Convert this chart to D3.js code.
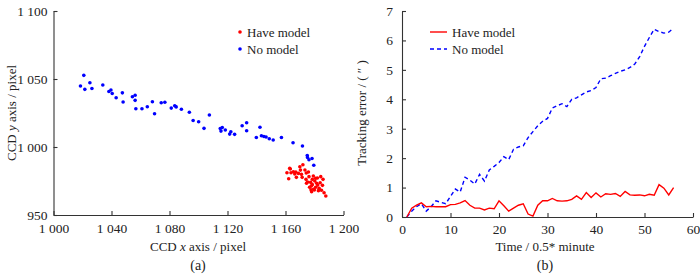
<!DOCTYPE html>
<html lang="en">
<head>
<meta charset="UTF-8">
<script src="https://cdn.jsdelivr.net/npm/d3@7"></script>
<style>
  body { margin: 0; background: #fff; }
  text { font-family: "Liberation Serif", serif; fill: #222; }
</style>
</head>
<body>
<div id="fig"></div>
<script>
// panel (a): CCD positions [x, y]
const haveModelPts = [
  [1162.9,984.3],[1161.0,981.1],[1162.2,976.7],[1163.8,981.1],[1165.4,981.8],[1166.4,980.1],
  [1167.5,977.7],[1167.1,981.6],[1168.9,980.6],[1169.9,985.5],[1172.0,987.0],[1171.0,979.9],
  [1171.5,977.7],[1173.4,983.1],[1174.3,980.9],[1174.1,976.2],[1175.2,974.3],[1176.2,978.2],
  [1174.5,973.3],[1177.3,974.0],[1178.5,976.2],[1179.2,978.7],[1180.8,977.0],[1178.5,972.3],
  [1176.6,970.4],[1177.6,968.6],[1179.4,968.9],[1180.8,970.4],[1181.5,973.3],[1182.2,972.0],
  [1183.2,969.6],[1184.3,978.2],[1183.9,973.7],[1185.9,976.2],[1185.5,971.8],[1184.8,968.2],
  [1186.6,966.4],[1187.8,964.0],[1179.9,968.4],[1178.0,967.1],[1182.7,967.9],[1163.3,983.8],
  [1175.8,981.6],[1180.2,975.0],[1177.8,971.3],[1182.0,977.2],[1170.3,983.0]
];
const noModelPts = [
  [1018.6,1044.8],[1020.9,1052.7],[1021.6,1042.4],[1025.1,1047.2],[1026.5,1043.0],[1034.0,1045.6],
  [1038.2,1040.8],[1039.6,1041.9],[1040.5,1039.3],[1043.2,1036.2],[1047.5,1039.8],[1048.0,1033.1],
  [1054.4,1037.0],[1056.3,1038.0],[1056.3,1034.3],[1056.8,1028.1],[1061.0,1028.1],[1064.7,1029.6],
  [1068.2,1033.3],[1069.7,1024.5],[1074.3,1032.5],[1076.8,1032.9],[1081.2,1028.6],[1083.6,1030.3],
  [1084.6,1029.5],[1088.2,1027.8],[1093.7,1025.5],[1096.3,1019.5],[1100.1,1018.6],[1103.8,1013.7],
  [1107.5,1023.5],[1115.0,1013.6],[1115.5,1011.7],[1116.4,1014.3],[1118.5,1012.5],[1121.5,1009.5],
  [1122.3,1011.2],[1124.9,1009.3],[1130.1,1015.6],[1133.2,1017.8],[1133.2,1012.0],[1139.9,1007.0],
  [1142.4,1014.5],[1143.4,1008.3],[1145.1,1007.7],[1146.6,1007.3],[1148.8,1006.1],[1151.5,1005.1],
  [1157.2,1007.0],[1165.2,1003.1],[1171.7,1000.7],[1175.2,992.3],[1176.2,990.6],[1178.3,991.5],
  [1179.5,986.6],[1175.0,993.7]
];
const xTicksA = [1000, 1040, 1080, 1120, 1160, 1200];
const yTicksA = [950, 1000, 1050, 1100];

// panel (b): tracking error over time
const timeSteps = d3.range(1, 57);
const haveModelErr = [
  0, 0.3, 0.4, 0.48, 0.35, 0.36, 0.35, 0.35, 0.35, 0.42, 0.43, 0.48, 0.56, 0.4, 0.3, 0.3,
  0.24, 0.3, 0.28, 0.55, 0.38, 0.2, 0.3, 0.4, 0.45, 0.1, 0.03, 0.4, 0.55, 0.55, 0.63, 0.55,
  0.54, 0.55, 0.6, 0.72, 0.6, 0.83, 0.66, 0.82, 0.68, 0.79, 0.77, 0.8, 0.7, 0.87, 0.75, 0.74,
  0.75, 0.72, 0.77, 0.74, 1.1, 0.98, 0.75, 1.0
];
const noModelErr = [
  0, 0.2, 0.35, 0.45, 0.2, 0.35, 0.55, 0.5, 0.45, 0.7, 0.95, 0.85, 1.35, 1.25, 1.12, 1.45,
  1.22, 1.6, 1.72, 1.85, 2.05, 1.95, 2.3, 2.38, 2.42, 2.7, 2.9, 3.1, 3.25, 3.35, 3.7, 3.78,
  3.85, 3.75, 4.0, 4.05, 4.15, 4.25, 4.3, 4.4, 4.7, 4.72, 4.8, 4.88, 4.95, 5.0, 5.08, 5.2,
  5.45, 5.8, 6.1, 6.38, 6.3, 6.25, 6.28, 6.42
];
const xTicksB = [0, 10, 20, 30, 40, 50, 60];
const yTicksB = [0, 1, 2, 3, 4, 5, 6, 7];

const width = 700, height = 275;
const fs = 13;
const svg = d3.select("#fig").append("svg")
    .attr("width", width)
    .attr("height", height);

const axisColor = "#333";
function styleAxis(g) {
    g.attr("font-family", null);
    g.select(".domain").attr("stroke", axisColor).attr("stroke-width", 1.1);
    g.selectAll(".tick line").attr("stroke", axisColor).attr("stroke-width", 1.1);
    g.selectAll(".tick text").attr("font-size", 13.5).attr("fill", "#222");
}

// ---- (a) scatter
const xA = d3.scaleLinear().domain([1000, 1200]).range([53.5, 343.5]);
const yA = d3.scaleLinear().domain([950, 1100]).range([215, 11]);
const spaceFmt = d => d3.format(",")(d).replace(",", " ");

const gxA = svg.append("g").attr("transform", `translate(0,${yA(950)})`)
    .call(d3.axisBottom(xA).tickValues(xTicksA).tickFormat(spaceFmt).tickSizeInner(-4).tickSizeOuter(0).tickPadding(8));
styleAxis(gxA);
const gyA = svg.append("g").attr("transform", `translate(${xA(1000)},0)`)
    .call(d3.axisLeft(yA).tickValues(yTicksA).tickFormat(spaceFmt).tickSizeInner(-4).tickSizeOuter(0).tickPadding(6));
styleAxis(gyA);

svg.append("g").selectAll("circle")
    .data(noModelPts).join("circle")
    .attr("cx", d => xA(d[0])).attr("cy", d => yA(d[1]))
    .attr("r", 1.8).attr("fill", "#0000ff");
svg.append("g").selectAll("circle")
    .data(haveModelPts).join("circle")
    .attr("cx", d => xA(d[0])).attr("cy", d => yA(d[1]))
    .attr("r", 1.8).attr("fill", "#ff0000");

// legend (a)
const legA = [{name: "Have model", color: "#ff0000"}, {name: "No model", color: "#0000ff"}];
const lgA = svg.append("g").attr("transform", "translate(240,32)");
lgA.selectAll("circle").data(legA).join("circle")
    .attr("cx", 0).attr("cy", (d, i) => i * 17).attr("r", 1.8).attr("fill", d => d.color);
lgA.selectAll("text").data(legA).join("text")
    .attr("x", 7).attr("y", (d, i) => i * 17 + 4.5).attr("font-size", fs).text(d => d.name);

const xtA = svg.append("text").attr("x", 198).attr("y", 251).attr("text-anchor", "middle").attr("font-size", fs);
xtA.append("tspan").text("CCD ");
xtA.append("tspan").attr("font-style", "italic").text("x");
xtA.append("tspan").text(" axis / pixel");
const ytA = svg.append("text").attr("transform", "translate(16,113) rotate(-90)").attr("text-anchor", "middle").attr("font-size", fs);
ytA.append("tspan").text("CCD ");
ytA.append("tspan").attr("font-style", "italic").text("y");
ytA.append("tspan").text(" axis / pixel");
svg.append("text").attr("x", 198).attr("y", 270).attr("text-anchor", "middle").attr("font-size", 14).text("(a)");

// ---- (b) lines
const xB = d3.scaleLinear().domain([0, 60]).range([402, 693]);
const yB = d3.scaleLinear().domain([0, 7]).range([217, 11]);

const gxB = svg.append("g").attr("transform", `translate(0,${yB(0)})`)
    .call(d3.axisBottom(xB).tickValues(xTicksB).tickFormat(d3.format("d")).tickSizeInner(-4).tickSizeOuter(0).tickPadding(7));
styleAxis(gxB);
const gyB = svg.append("g").attr("transform", `translate(${xB(0)},0)`)
    .call(d3.axisLeft(yB).tickValues(yTicksB).tickFormat(d3.format("d")).tickSizeInner(-4).tickSizeOuter(0).tickPadding(9));
styleAxis(gyB);

const line = d3.line().x((d, i) => xB(timeSteps[i])).y(d => yB(d));
svg.append("path").datum(noModelErr)
    .attr("d", line).attr("fill", "none")
    .attr("stroke", "#0000ff").attr("stroke-width", 1.4).attr("stroke-dasharray", "4,3");
svg.append("path").datum(haveModelErr)
    .attr("d", line).attr("fill", "none")
    .attr("stroke", "#ff0000").attr("stroke-width", 1.4);

const legB = [{name: "Have model", color: "#ff0000", dash: null}, {name: "No model", color: "#0000ff", dash: "4,3"}];
const lgB = svg.append("g").attr("transform", "translate(430,32)");
lgB.selectAll("line").data(legB).join("line")
    .attr("x1", 0).attr("x2", 17).attr("y1", (d, i) => i * 17).attr("y2", (d, i) => i * 17)
    .attr("stroke", d => d.color).attr("stroke-width", 1.4).attr("stroke-dasharray", d => d.dash);
lgB.selectAll("text").data(legB).join("text")
    .attr("x", 22).attr("y", (d, i) => i * 17 + 4.5).attr("font-size", fs).text(d => d.name);

svg.append("text").attr("x", 545).attr("y", 251).attr("text-anchor", "middle").attr("font-size", fs)
    .text("Time / 0.5* minute");
svg.append("text").attr("transform", "translate(366,113) rotate(-90)").attr("text-anchor", "middle").attr("font-size", fs)
    .text("Tracking error / ( \u2033 )");
svg.append("text").attr("x", 545).attr("y", 270).attr("text-anchor", "middle").attr("font-size", 14).text("(b)");
</script>
</body>
</html>
